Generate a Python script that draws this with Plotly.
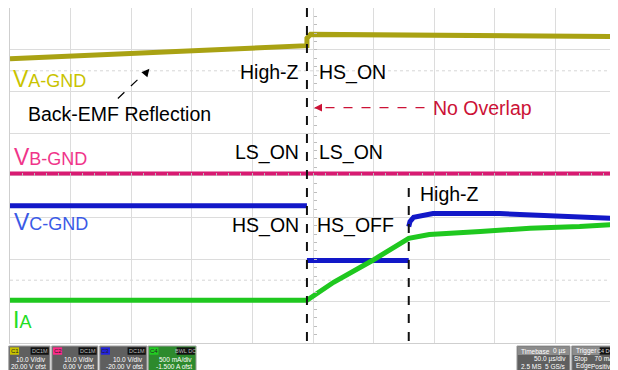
"""Oscilloscope capture: phase voltages and phase current around a commutation"""
import plotly.graph_objects as go

# time in microseconds (50 us/div, trigger at 0), amplitude in screen divisions
# (None breaks the trace where the scope edge is too fast to be drawn)
t_va = [-250, -5, -5, -2, 250]
va = [2.79, 3.10, 3.28, 3.37, 3.32]

t_vb = [-250, 250]
vb = [0.05, 0.05]

t_vc = [-250, -5, None, -5, 79, None, 79, 80, 83, 99, 154, 210, 250]
vc = [-0.72, -0.72, None, -2.03, -2.03, None, -1.22, -1.10, -1.00, -0.91, -0.91, -0.98, -1.03]

t_ia = [-250, -5, 17, 49, 79, 96, 138, 179, 220, 250]
ia = [-2.98, -2.98, -2.55, -2.03, -1.50, -1.41, -1.34, -1.26, -1.22, -1.17]

# switching instants (dashed markers)
t_switch = [-5, 79]

FONT = "Liberation Sans, Arial"
FS = 19.5


def cores():
    return {
        'va': '#a9a213', 'va_txt': '#c9c300',
        'vb': '#d81b72', 'vb_txt': '#f0358a',
        'vc': '#1218c8', 'vc_txt': '#3a5ae6',
        'ia': '#1fc81f', 'ia_txt': '#22dd22',
        'grid': '#dcdcdc',
    }


c = cores()

fig = go.Figure()
fig.add_trace(go.Scatter(x=t_va, y=va, mode='lines', line=dict(color=c['va'], width=5)))
fig.add_trace(go.Scatter(x=t_vb, y=vb, mode='lines', line=dict(color=c['vb'], width=4)))
fig.add_trace(go.Scatter(x=t_vc, y=vc, mode='lines', connectgaps=False,
                         line=dict(color=c['vc'], width=5)))
fig.add_trace(go.Scatter(x=t_ia, y=ia, mode='lines', line=dict(color=c['ia'], width=5)))

# dashed markers at the switching instants
fig.add_shape(type='line', x0=t_switch[0], x1=t_switch[0], y0=-3.95, y1=4.2,
              line=dict(color='#111111', width=2, dash='dash'), layer='above')
fig.add_shape(type='line', x0=t_switch[1], x1=t_switch[1], y0=-3.95, y1=-0.2,
              line=dict(color='#111111', width=2, dash='dash'), layer='above')

# dotted helper rows
for yy in [2.5, -2.5]:
    fig.add_shape(type='line', x0=-250, x1=250, y0=yy, y1=yy,
                  line=dict(color='#d6d6d6', width=1, dash='dot'), layer='below')


def label(text, x, y, color='black', anchor='left', size=FS):
    fig.add_annotation(x=x, y=y, text=text, showarrow=False, xanchor=anchor, yanchor='middle',
                       font=dict(family=FONT, size=size, color=color))


def vlabel(first, sub, x, y, color):
    txt = "%s<span style='font-size:18px'>%s</span>" % (first, sub)
    label(txt, x, y, color, size=23)


vlabel('V', 'A-GND', -249, 2.31, c['va_txt'])
vlabel('V', 'B-GND', -248, 0.43, c['vb_txt'])
vlabel('V', 'C-GND', -248, -1.12, c['vc_txt'])
vlabel('I', 'A', -249, -3.46, c['ia_txt'])

label('Back-EMF Reflection', -237, 1.48)
label('High-Z', -10, 2.46, anchor='right')
label('HS_ON', 3, 2.46)
label('LS_ON', -10, 0.55, anchor='right')
label('LS_ON', 3, 0.55)
label('HS_ON', -10, -1.19, anchor='right')
label('HS_OFF', 2, -1.19)
label('High-Z', 87, -0.43)
label('No Overlap', 97, 1.62, '#cc1236')

# red dashed arrow "No Overlap"
fig.add_shape(type='line', x0=92, x1=2, y0=1.62, y1=1.62,
              line=dict(color='#cc1236', width=1.2, dash='dash'))
fig.add_annotation(x=1, y=1.62, ax=8, ay=0, text='', showarrow=True, arrowhead=2,
                   arrowsize=1.3, arrowwidth=1.2, arrowcolor='#cc1236')

# black dashed arrow to the back-EMF slope
fig.add_shape(type='line', x0=-161, x1=-137, y0=1.84, y1=2.50,
              line=dict(color='black', width=1.2, dash='dash'))
fig.add_annotation(x=-135, y=2.55, ax=-5, ay=6, text='', showarrow=True, arrowhead=2,
                   arrowsize=1.3, arrowwidth=1.2, arrowcolor='black')

# status bar boxes (paper coordinates)
boxes = [
    (-0.002, 0.066, 'C1', '#c9c300', 'DC1M', '10.0 V/div', '20.00 V ofst'),
    (0.069, 0.145, 'C2', '#ff2a8a', 'DC1M', '10.0 V/div', '0.00 V ofst'),
    (0.148, 0.226, 'C3', '#2222dd', 'DC1M', '10.0 V/div', '-20.00 V ofst'),
    (0.228, 0.307, 'C4', '#22cc22', 'BWL DC', '500 mA/div', '-1.500 A ofst'),
]
y_top, y_bot = -0.009, -0.085
r1, r2y, r3y = -0.024, -0.048, -0.069
small = dict(family='Arial', size=6.5, color='white')
for x0, x1, ch, col, cpl, vdiv, ofst in boxes:
    fill = '#2d8a2d' if ch == 'C4' else '#5f5f5f'
    fig.add_shape(type='rect', xref='paper', yref='paper', x0=x0, x1=x1, y0=y_bot, y1=y_top,
                  fillcolor=fill, line=dict(color='#a0a0a0', width=1))
    fig.add_shape(type='rect', xref='paper', yref='paper', x0=x0 + 0.002, x1=x0 + 0.017,
                  y0=r1 - 0.011, y1=r1 + 0.011, fillcolor=col, line=dict(width=0))
    fig.add_shape(type='rect', xref='paper', yref='paper', x0=x1 - 0.032, x1=x1 - 0.002,
                  y0=r1 - 0.011, y1=r1 + 0.011, fillcolor='#111111', line=dict(width=0))
    fig.add_annotation(xref='paper', yref='paper', x=x0 + 0.0095, y=r1, text=ch,
                       showarrow=False, xanchor='center', yanchor='middle',
                       font=dict(family='Arial', size=6, color='#222222'))
    fig.add_annotation(xref='paper', yref='paper', x=x1 - 0.017, y=r1, text=cpl,
                       showarrow=False, xanchor='center', yanchor='middle',
                       font=dict(family='Arial', size=5.5, color='#bbbbbb'))
    for txt, yy in [(vdiv, r2y), (ofst, r3y)]:
        fig.add_annotation(xref='paper', yref='paper', x=x1 - 0.003, y=yy, text=txt,
                           showarrow=False, xanchor='right', yanchor='middle', font=small)

right_boxes = [
    (0.8366, 0.924, 'Timebase', '0 µs', False, '50.0 µs/div', '2.5 MS', '5 GS/s'),
    (0.927, 1.003, 'Trigger', 'C4 DC', True, 'Stop    70 mA', 'Edge', 'Positive'),
]
for x0, x1, head, val, dark, row2, row3a, row3b in right_boxes:
    fig.add_shape(type='rect', xref='paper', yref='paper', x0=x0, x1=x1, y0=y_bot, y1=y_top,
                  fillcolor='#5f5f5f', line=dict(color='#a0a0a0', width=1))
    fig.add_shape(type='rect', xref='paper', yref='paper', x0=x0 + 0.001, x1=x1 - 0.001,
                  y0=r1 - 0.012, y1=r1 + 0.013, fillcolor='#8c8c8c', line=dict(width=0))
    if dark:
        fig.add_shape(type='rect', xref='paper', yref='paper', x0=x1 - 0.03, x1=x1 - 0.001,
                      y0=r1 - 0.011, y1=r1 + 0.011, fillcolor='#111111', line=dict(width=0))
    fig.add_annotation(xref='paper', yref='paper', x=x0 + 0.003, y=r1, text=head,
                       showarrow=False, xanchor='left', yanchor='middle', font=small)
    fig.add_annotation(xref='paper', yref='paper', x=x1 - 0.003, y=r1, text=val,
                       showarrow=False, xanchor='right', yanchor='middle',
                       font=dict(family='Arial', size=5.5 if dark else 6.5,
                                 color='#dddddd' if dark else 'white'))
    fig.add_annotation(xref='paper', yref='paper', x=x1 - 0.003, y=r2y, text=row2,
                       showarrow=False, xanchor='right', yanchor='middle', font=small)
    fig.add_annotation(xref='paper', yref='paper', x=x0 + 0.003, y=r3y, text=row3a,
                       showarrow=False, xanchor='left', yanchor='middle', font=small)
    fig.add_annotation(xref='paper', yref='paper', x=x1 - 0.003, y=r3y, text=row3b,
                       showarrow=False, xanchor='right', yanchor='middle', font=small)

# figure is 8px smaller than the window because the page body adds an 8px margin
fig.update_layout(
    width=610, height=362,
    margin=dict(l=2, r=2, t=0, b=27),
    plot_bgcolor='white', paper_bgcolor='white',
    showlegend=False,
    xaxis=dict(range=[-250, 250], dtick=50, showticklabels=False, showgrid=True,
               gridcolor=c['grid'], zeroline=False, showline=True, mirror=True,
               linecolor='#cfcfcf', fixedrange=True),
    yaxis=dict(range=[-4, 4], dtick=1, showticklabels=False, showgrid=True,
               gridcolor=c['grid'], zeroline=False, showline=True, mirror=True,
               linecolor='#cfcfcf', fixedrange=True),
    # centre cross with fine ticks
    xaxis2=dict(range=[-250, 250], overlaying='x', anchor='free', position=0.5,
                showticklabels=False, showgrid=False, zeroline=False, ticks='inside',
                ticklen=3, dtick=10, tickcolor='#bdbdbd', showline=False),
    yaxis2=dict(range=[-4, 4], overlaying='y', anchor='free', position=0.5,
                showticklabels=False, showgrid=False, zeroline=False, ticks='inside',
                ticklen=3, dtick=0.2, tickcolor='#bdbdbd', showline=False),
)
fig.add_trace(go.Scatter(x=[0], y=[-4.07], xaxis='x2', yaxis='y2', mode='markers',
                         marker=dict(color='#22cc22', size=5), cliponaxis=False))

fig.write_html("out.html")
